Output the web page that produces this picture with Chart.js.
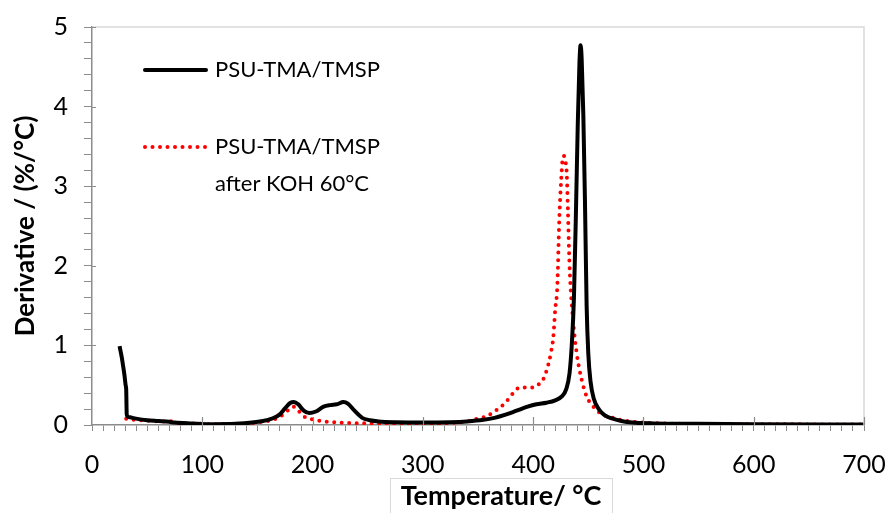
<!DOCTYPE html>
<html>
<head>
<meta charset="utf-8">
<script src="https://cdn.jsdelivr.net/npm/chart.js@4"></script>
<style>
  body { margin: 0; background: #fff; }
  #wrap { width: 890px; height: 513px; }
</style>
</head>
<body>
<div id="wrap"><canvas id="dtgChart"></canvas></div>
<script>
// PSU-TMA/TMSP (pristine)
const tempA = [25, 27, 28, 29.5, 30.5, 31, 31.5, 33, 40, 50, 60, 70, 75, 90, 110, 130, 145, 155, 163, 170, 175, 180, 183, 187, 192, 197, 203, 210, 216, 222, 228, 232, 238, 245, 252, 260, 275, 300, 325, 340, 355, 365, 375, 385, 395, 403, 412, 420, 426, 430, 433, 435, 437, 439, 440.5, 442, 443, 444, 445.5, 447, 448.5, 450, 452, 455, 460, 465, 472, 480, 490, 510, 550, 600, 700];
const derivA = [0.99, 0.85, 0.76, 0.62, 0.50, 0.45, 0.13, 0.10, 0.08, 0.06, 0.05, 0.04, 0.03, 0.02, 0.01, 0.015, 0.03, 0.05, 0.08, 0.13, 0.21, 0.28, 0.29, 0.26, 0.18, 0.15, 0.17, 0.23, 0.25, 0.26, 0.29, 0.27, 0.18, 0.09, 0.06, 0.045, 0.035, 0.03, 0.035, 0.045, 0.065, 0.09, 0.13, 0.18, 0.23, 0.26, 0.28, 0.31, 0.36, 0.45, 0.65, 1.0, 1.6, 2.8, 3.8, 4.55, 4.77, 4.6, 3.9, 2.8, 1.5, 0.9, 0.55, 0.33, 0.19, 0.12, 0.08, 0.05, 0.03, 0.02, 0.015, 0.01, 0.005];

// PSU-TMA/TMSP after KOH 60°C
const tempB = [31, 35, 45, 55, 65, 70, 75, 90, 110, 130, 145, 155, 163, 170, 175, 180, 183, 187, 193, 200, 210, 225, 250, 300, 325, 340, 350, 358, 365, 371, 378, 383, 388, 395, 400, 404, 409, 413, 416, 418.3, 420, 421.9, 423.7, 425.5, 427, 428, 429.5, 430.5, 431.5, 433, 436, 439.5, 444, 448.5, 456, 462, 470, 478, 485, 500, 530, 600, 700];
const derivB = [0.08, 0.07, 0.06, 0.05, 0.045, 0.05, 0.03, 0.02, 0.01, 0.015, 0.025, 0.04, 0.06, 0.10, 0.15, 0.21, 0.23, 0.18, 0.10, 0.07, 0.045, 0.03, 0.02, 0.015, 0.025, 0.045, 0.08, 0.11, 0.17, 0.23, 0.33, 0.42, 0.47, 0.47, 0.47, 0.50, 0.57, 0.72, 0.9, 1.11, 1.45, 1.74, 2.58, 3.1, 3.37, 3.38, 3.3, 3.15, 2.7, 2.0, 1.35, 0.90, 0.57, 0.36, 0.21, 0.14, 0.10, 0.07, 0.05, 0.03, 0.015, 0.01, 0.005];

const seriesNames = ["PSU-TMA/TMSP", "PSU-TMA/TMSP\nafter KOH 60°C"];
const xTitle = "Temperature/ °C";
const yTitle = "Derivative / (%/°C)";

const axisGray = "#8c8c8c";
const FONT = "Lato, 'Open Sans', sans-serif";

function pts(xs, ys) {
    return xs.map((x, i) => ({ x: x, y: ys[i] }));
}

// frame, inner major ticks, legend and boxed x title
const decorations = {
    id: "decorations",
    afterDraw(chart) {
        const ctx = chart.ctx;
        const area = chart.chartArea;
        const xs = chart.scales.x;
        const ys = chart.scales.y;
        ctx.save();

        // light top / right frame
        ctx.strokeStyle = "#d9d9d9";
        ctx.lineWidth = 1.5;
        ctx.beginPath();
        ctx.moveTo(area.left, area.top);
        ctx.lineTo(area.right, area.top);
        ctx.lineTo(area.right, area.bottom);
        ctx.stroke();

        // major ticks pointing inwards
        ctx.strokeStyle = axisGray;
        ctx.lineWidth = 1.2;
        ctx.beginPath();
        for (let v = 100; v <= 700; v += 100) {
            const px = Math.round(xs.getPixelForValue(v)) + 0.5;
            ctx.moveTo(px, area.bottom);
            ctx.lineTo(px, area.bottom - 8);
        }
        for (let v = 1; v <= 5; v++) {
            const py = Math.round(ys.getPixelForValue(v)) + 0.5;
            ctx.moveTo(area.left, py);
            ctx.lineTo(area.left + 4, py);
        }
        ctx.stroke();

        // legend
        const dsA = chart.data.datasets[0];
        const dsB = chart.data.datasets[1];
        ctx.lineCap = "round";
        ctx.strokeStyle = dsA.borderColor;
        ctx.lineWidth = dsA.borderWidth;
        ctx.beginPath();
        ctx.moveTo(145, 70);
        ctx.lineTo(206, 70);
        ctx.stroke();

        ctx.strokeStyle = dsB.borderColor;
        ctx.lineWidth = dsB.borderWidth;
        ctx.setLineDash(dsB.borderDash);
        ctx.beginPath();
        ctx.moveTo(145, 147);
        ctx.lineTo(208, 147);
        ctx.stroke();
        ctx.setLineDash([]);

        ctx.fillStyle = "#000";
        ctx.font = "22px " + FONT;
        ctx.textBaseline = "middle";
        ctx.textAlign = "left";
        ctx.fillText(dsA.label, 215, 70);
        const lines = dsB.label.split("\n");
        lines.forEach((t, i) => ctx.fillText(t, 215, 147 + i * 37));

        // x title with thin box
        ctx.strokeStyle = "#d9d9d9";
        ctx.lineWidth = 1;
        ctx.strokeRect(390.5, 478.5, 222, 40);
        ctx.font = "bold 27px " + FONT;
        ctx.textAlign = "center";
        ctx.fillText(xTitle, 501, 496);

        ctx.restore();
    }
};

document.addEventListener("DOMContentLoaded", function () {
    const ctx = document.getElementById("dtgChart").getContext("2d");
    new Chart(ctx, {
        type: "line",
        data: {
            datasets: [
                {
                    label: seriesNames[0],
                    data: pts(tempA, derivA),
                    borderColor: "#000000",
                    borderWidth: 4,
                    pointRadius: 0,
                    cubicInterpolationMode: "monotone",
                    fill: false,
                },
                {
                    label: seriesNames[1],
                    data: pts(tempB, derivB),
                    borderColor: "#ff0000",
                    borderWidth: 4,
                    borderDash: [0, 7.5],
                    borderCapStyle: "round",
                    pointRadius: 0,
                    cubicInterpolationMode: "monotone",
                    fill: false,
                },
            ],
        },
        options: {
            responsive: true,
            maintainAspectRatio: false,
            animation: false,
            layout: { padding: { top: 27, right: 26, left: 0, bottom: 0 } },
            plugins: {
                legend: { display: false },
                tooltip: { enabled: false },
            },
            scales: {
                x: {
                    type: "linear",
                    min: 0,
                    max: 700,
                    afterBuildTicks: (scale) => {
                        const t = [];
                        for (let v = 0; v <= 700; v += 10) t.push({ value: v });
                        scale.ticks = t;
                    },
                    afterFit: (scale) => {
                        scale.height = 88;
                        scale.paddingLeft = 0;
                        scale.paddingRight = 0;
                    },
                    ticks: {
                        autoSkip: false,
                        maxRotation: 0,
                        padding: 19,
                        color: "#000",
                        font: { family: FONT, size: 25 },
                        callback: (v) => (v % 100 === 0 ? String(v) : ""),
                    },
                    grid: {
                        drawOnChartArea: false,
                        drawTicks: true,
                        tickLength: 6,
                        color: axisGray,
                    },
                    border: { color: axisGray, width: 1.5 },
                    title: { display: false },
                },
                y: {
                    min: 0,
                    max: 5,
                    afterBuildTicks: (scale) => {
                        const t = [];
                        for (let i = 0; i <= 25; i++) t.push({ value: i / 5 });
                        scale.ticks = t;
                    },
                    afterFit: (scale) => {
                        scale.width = 92;
                        scale.paddingTop = 0;
                        scale.paddingBottom = 0;
                    },
                    ticks: {
                        autoSkip: false,
                        padding: 16,
                        color: "#000",
                        font: { family: FONT, size: 25 },
                        callback: (v) =>
                            Math.abs(v - Math.round(v)) < 1e-6 ? String(Math.round(v)) : "",
                    },
                    grid: {
                        drawOnChartArea: false,
                        drawTicks: true,
                        tickLength: 8,
                        color: axisGray,
                    },
                    border: { color: axisGray, width: 1.5 },
                    title: {
                        display: true,
                        text: yTitle,
                        color: "#000",
                        font: { family: FONT, size: 26, weight: "bold" },
                        padding: { top: 10, bottom: 0 },
                    },
                },
            },
        },
        plugins: [decorations],
    });
});
</script>
</body>
</html>
